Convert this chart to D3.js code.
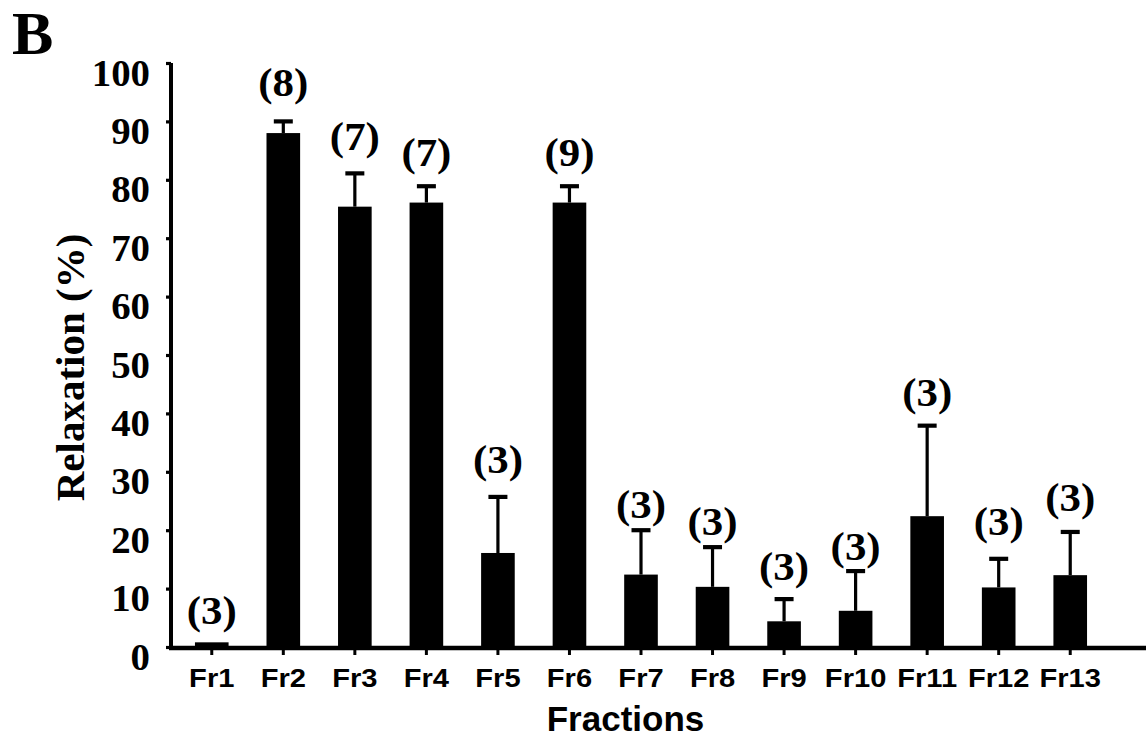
<!DOCTYPE html>
<html>
<head>
<meta charset="utf-8">
<script src="https://cdn.jsdelivr.net/npm/d3@7/dist/d3.min.js"></script>
<style>
  html, body { margin: 0; padding: 0; background: #fff; }
  svg { display: block; }
</style>
</head>
<body>
<svg id="chart" width="1146" height="739"></svg>
<script>
// ---- data ----
const categories = ["Fr1","Fr2","Fr3","Fr4","Fr5","Fr6","Fr7","Fr8","Fr9","Fr10","Fr11","Fr12","Fr13"];
const means      = [0.8, 88.0, 75.4, 76.1, 16.1, 76.1, 12.4, 10.3, 4.4, 6.2, 22.4, 10.2, 12.3];
const errors     = [0.0,  2.0,  5.7,  2.8,  9.6,  2.8,  7.6,  6.8, 3.8, 6.8, 15.5,  4.9,  7.4];
const nLabels    = ["(3)","(8)","(7)","(7)","(3)","(9)","(3)","(3)","(3)","(3)","(3)","(3)","(3)"];
const labelLevel = [3.9, 94.3, 85.1, 82.4, 29.8, 82.4, 22.1, 19.2, 11.5, 14.9, 41.3, 19.2, 23.3];
const yTicks     = [0,10,20,30,40,50,60,70,80,90,100];
const panelLabel = "B";
const yTitle     = "Relaxation (%)";
const xTitle     = "Fractions";

// ---- drawing ----
const svg = d3.select("#chart");
const serif = "'Liberation Serif','Times New Roman',Times,serif";
const sans  = "'Liberation Sans',Arial,Helvetica,sans-serif";

const y = d3.scaleLinear().domain([0, 100]).range([647, 63]);
const x = d3.scaleBand().domain(categories).range([176, 1106]).paddingInner(0.53).paddingOuter(0.265);
const axisX = 171;
const baseY = 648;
const cx = d => x(d) + x.bandwidth() / 2;

// bars
svg.append("g").selectAll("rect").data(categories).join("rect")
  .attr("x", d => x(d))
  .attr("width", x.bandwidth())
  .attr("y", (d, i) => y(means[i]))
  .attr("height", (d, i) => y(0) - y(means[i]))
  .attr("fill", "#000");

// error bars
const eb = svg.append("g").selectAll("g").data(categories.map((c, i) => ({c, i})).filter(d => errors[d.i] > 0)).join("g");
eb.append("line")
  .attr("x1", d => cx(d.c)).attr("x2", d => cx(d.c))
  .attr("y1", d => y(means[d.i])).attr("y2", d => y(means[d.i] + errors[d.i]))
  .attr("stroke", "#000").attr("stroke-width", 3.2);
eb.append("line")
  .attr("x1", d => cx(d.c) - 9.5).attr("x2", d => cx(d.c) + 9.5)
  .attr("y1", d => y(means[d.i] + errors[d.i])).attr("y2", d => y(means[d.i] + errors[d.i]))
  .attr("stroke", "#000").attr("stroke-width", 4.2);

// n labels
svg.append("g").selectAll("g").data(categories).join("g")
  .attr("transform", (d, i) => `translate(${cx(d)},${y(labelLevel[i])}) scale(1.1,1)`)
  .append("text")
  .attr("text-anchor", "middle")
  .attr("font-family", serif).attr("font-weight", "bold").attr("font-size", 39)
  .text((d, i) => nLabels[i]);

// y axis
const yAxis = d3.axisLeft(y).tickValues(yTicks).tickSize(5).tickSizeOuter(0).tickPadding(0);
const gy = svg.append("g").attr("transform", `translate(${axisX},0)`).call(yAxis);
gy.select(".domain").remove();
gy.selectAll(".tick line").attr("stroke", "#000").attr("stroke-width", 3.2).attr("x1", 0);
gy.selectAll(".tick text")
  .attr("x", null).attr("dy", null).attr("y", null)
  .attr("transform", "translate(-21,22) scale(1.05,1)")
  .attr("fill", "#000")
  .attr("font-family", serif).attr("font-weight", "bold").attr("font-size", 37)
  .attr("text-anchor", "end");
svg.append("line")
  .attr("x1", axisX).attr("x2", axisX).attr("y1", y(100)).attr("y2", baseY + 2)
  .attr("stroke", "#000").attr("stroke-width", 4);

// x axis
const xAxis = d3.axisBottom(x).tickSize(7).tickSizeOuter(0).tickPadding(0);
const gx = svg.append("g").attr("transform", `translate(0,${baseY})`).call(xAxis);
gx.select(".domain").remove();
gx.selectAll(".tick line").attr("stroke", "#000").attr("stroke-width", 3);
gx.selectAll(".tick text")
  .attr("y", null).attr("dy", null)
  .attr("transform", "translate(0,39) scale(1.12,1)")
  .attr("fill", "#000")
  .attr("font-family", sans).attr("font-weight", "bold").attr("font-size", 26);
svg.append("line")
  .attr("x1", axisX - 2).attr("x2", 1146).attr("y1", baseY).attr("y2", baseY)
  .attr("stroke", "#000").attr("stroke-width", 4.5);

// titles
svg.append("text")
  .attr("transform", "translate(84,367.5) rotate(-90)")
  .attr("text-anchor", "middle")
  .attr("font-family", serif).attr("font-weight", "bold").attr("font-size", 41)
  .text(yTitle);
svg.append("text")
  .attr("x", 625.5).attr("y", 731)
  .attr("text-anchor", "middle")
  .attr("font-family", sans).attr("font-weight", "bold").attr("font-size", 35)
  .text(xTitle);
svg.append("text")
  .attr("x", 12).attr("y", 54)
  .attr("font-family", serif).attr("font-weight", "bold").attr("font-size", 62)
  .text(panelLabel);
</script>
</body>
</html>
